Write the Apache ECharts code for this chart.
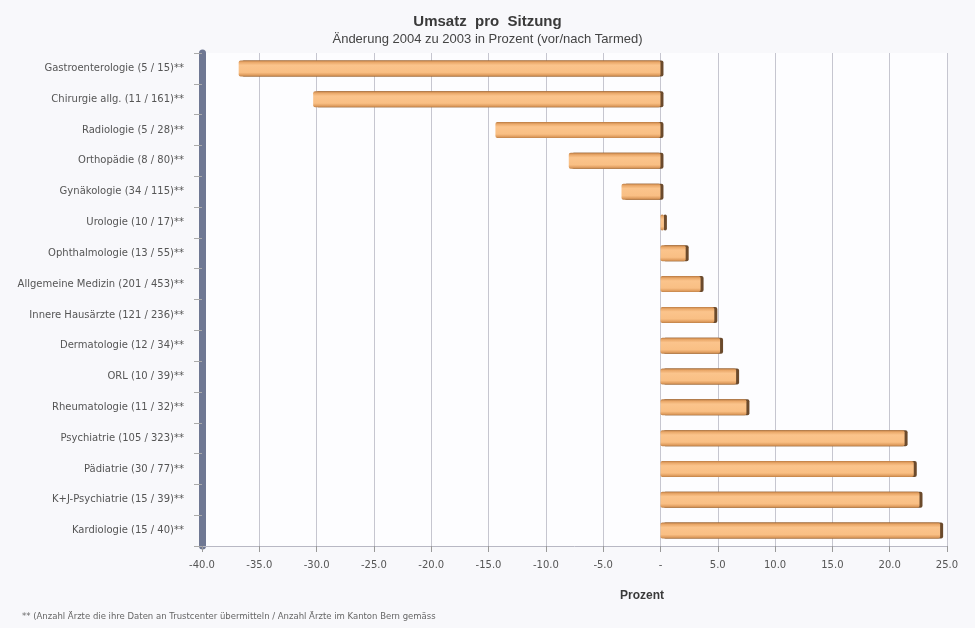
<!DOCTYPE html>
<html>
<head>
<meta charset="utf-8">
<title>Umsatz pro Sitzung</title>
<script src="https://cdn.jsdelivr.net/npm/echarts@6/dist/echarts.min.js"></script>
<style>
  html, body { margin: 0; padding: 0; background: #f8f8fb; }
  #bar { width: 975px; height: 628px; }
</style>
</head>
<body>
<div id="bar"></div>
<script>
// Fachgebiete (Anzahl Aerzte mit Daten / Anzahl Aerzte im Kanton)
var categories = [
    'Gastroenterologie (5 / 15)**',
    'Chirurgie allg. (11 / 161)**',
    'Radiologie (5 / 28)**',
    'Orthopädie (8 / 80)**',
    'Gynäkologie (34 / 115)**',
    'Urologie (10 / 17)**',
    'Ophthalmologie (13 / 55)**',
    'Allgemeine Medizin (201 / 453)**',
    'Innere Hausärzte (121 / 236)**',
    'Dermatologie (12 / 34)**',
    'ORL (10 / 39)**',
    'Rheumatologie (11 / 32)**',
    'Psychiatrie (105 / 323)**',
    'Pädiatrie (30 / 77)**',
    'K+J-Psychiatrie (15 / 39)**',
    'Kardiologie (15 / 40)**'
];
// Aenderung 2004 zu 2003 in Prozent
var values = [-36.8, -30.3, -14.4, -8.0, -3.4, 0.3, 2.2, 3.5, 4.7, 5.2, 6.6, 7.5, 21.3, 22.1, 22.6, 24.4];

var xTicks = { min: -40, max: 25, step: 5 };
var footnote = '** (Anzahl Ärzte die ihre Daten an Trustcenter übermitteln / Anzahl Ärzte im Kanton Bern gemäss';

var myChart = echarts.init(document.getElementById('bar'));
option = {
    backgroundColor: '#f8f8fb',
    animation: false,
    title: {
        text: 'Umsatz  pro  Sitzung',
        subtext: 'Änderung 2004 zu 2003 in Prozent (vor/nach Tarmed)',
        left: 'center',
        top: 9,
        itemGap: 4,
        textStyle: {
            fontFamily: 'Liberation Sans',
            fontSize: 15,
            fontWeight: 'bold',
            color: '#3a3a3a'
        },
        subtextStyle: {
            fontFamily: 'Liberation Sans',
            fontSize: 13,
            color: '#444'
        }
    },
    grid: {
        left: 202,
        right: 28,
        top: 53,
        bottom: 82,
        show: true,
        backgroundColor: '#fdfdff',
        borderWidth: 0
    },
    xAxis: {
        type: 'value',
        min: xTicks.min,
        max: xTicks.max,
        interval: xTicks.step,
        axisLine: { show: true, lineStyle: { color: '#b8b8c4', width: 1 } },
        axisTick: { show: true, length: 6, lineStyle: { color: '#999' } },
        axisLabel: {
            margin: 14,
            fontFamily: 'DejaVu Sans',
            fontSize: 10,
            color: '#555',
            formatter: function (v) {
                return v === 0 ? '-' : v.toFixed(1);
            }
        },
        splitLine: { show: true, lineStyle: { color: '#c6c6d0', width: 1 } }
    },
    yAxis: {
        type: 'category',
        inverse: true,
        data: categories,
        axisLine: { show: true, onZero: false, lineStyle: { color: '#6f7893', width: 7 } },
        axisTick: { show: true, length: 8, lineStyle: { color: '#aaa' } },
        axisLabel: {
            margin: 18,
            fontFamily: 'DejaVu Sans',
            fontSize: 10,
            color: '#555'
        }
    },
    series: [{
        name: 'Prozent',
        type: 'bar',
        data: values,
        barWidth: 16,
        itemStyle: {
            color: new echarts.graphic.LinearGradient(0, 0, 0, 1, [
                { offset: 0, color: '#b97a42' },
                { offset: 0.12, color: '#eaa869' },
                { offset: 0.3, color: '#fbc48c' },
                { offset: 0.75, color: '#f9bf84' },
                { offset: 0.9, color: '#e2a062' },
                { offset: 1, color: '#c08248' }
            ]),
            borderWidth: 0,
            borderRadius: 2,
            shadowColor: '#6b4a2c',
            shadowOffsetX: 3,
            shadowOffsetY: 0,
            shadowBlur: 0
        }
    }],
    graphic: [{
        type: 'text',
        left: 620,
        top: 590,
        style: {
            text: 'Prozent',
            font: 'bold 12px "Liberation Sans"',
            fill: '#3a3a3a'
        }
    }, {
        type: 'text',
        left: 22,
        top: 612,
        style: {
            text: footnote,
            font: '8.5px "DejaVu Sans"',
            fill: '#666'
        }
    }]
};

myChart.setOption(option);
</script>
</body>
</html>
